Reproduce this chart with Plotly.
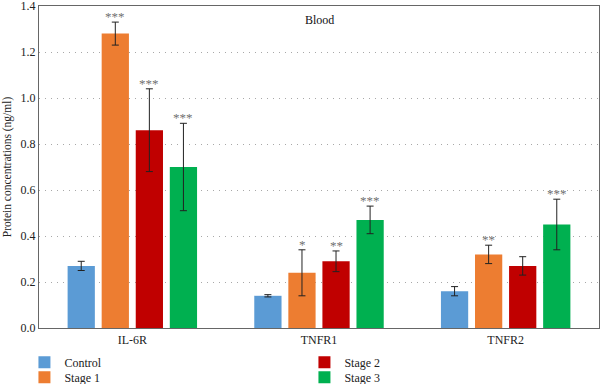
import plotly.graph_objects as go

categories = ["IL-6R", "TNFR1", "TNFR2"]
series_names = ["Control", "Stage 1", "Stage 2", "Stage 3"]
values = {
    "Control": [0.27, 0.14, 0.16],
    "Stage 1": [1.28, 0.24, 0.32],
    "Stage 2": [0.86, 0.29, 0.27],
    "Stage 3": [0.70, 0.47, 0.45],
}
errors = {
    "Control": [0.02, 0.005, 0.02],
    "Stage 1": [0.05, 0.10, 0.04],
    "Stage 2": [0.18, 0.045, 0.04],
    "Stage 3": [0.19, 0.06, 0.11],
}
stars = {
    "Control": ["", "", ""],
    "Stage 1": ["***", "*", "**"],
    "Stage 2": ["***", "**", ""],
    "Stage 3": ["***", "***", "***"],
}
colors = {"Control": "#5B9BD5", "Stage 1": "#ED7D31", "Stage 2": "#C00000", "Stage 3": "#00B050"}
legend_ids = {"Control": "legend", "Stage 1": "legend2", "Stage 2": "legend3", "Stage 3": "legend4"}
# legend placement (paper coords): 2 columns x 2 rows
legend_pos = {"Control": (-0.026, -0.106), "Stage 1": (-0.026, -0.153),
              "Stage 2": (0.474, -0.106), "Stage 3": (0.474, -0.153)}
y_ticks = [0.0, 0.2, 0.4, 0.6, 0.8, 1.0, 1.2, 1.4]
SERIF = "Liberation Serif"

fig = go.Figure()
for name in series_names:
    fig.add_trace(go.Bar(
        name=name, x=categories, y=values[name],
        marker=dict(color=colors[name], line=dict(width=0)),
        error_y=dict(type="data", array=errors[name], color="#222222", thickness=1, width=3.5),
        legend=legend_ids[name],
    ))

n = len(series_names)
for i, name in enumerate(series_names):
    for j, cat in enumerate(categories):
        s = stars[name][j]
        if not s:
            continue
        fig.add_annotation(
            x=j, y=values[name][j] + errors[name][j], xref="x", yref="y",
            text=s, showarrow=False, yanchor="bottom",
            xshift=(i - (n - 1) / 2) * 34, yshift=-4,
            font=dict(family=SERIF, size=13, color="#707070"),
        )

fig.add_annotation(x=0.5, y=0.985, xref="paper", yref="paper", text="Blood",
                   showarrow=False, yanchor="top",
                   font=dict(family=SERIF, size=12, color="#111111"))

legend_layout = {}
for name in series_names:
    lx, ly = legend_pos[name]
    legend_layout[legend_ids[name]] = dict(
        x=lx, y=ly, xanchor="left", yanchor="middle", orientation="v",
        font=dict(family=SERIF, size=12, color="#222222"),
        itemwidth=30, bgcolor="rgba(0,0,0,0)", borderwidth=0)

fig.update_layout(
    width=600, height=384,
    margin=dict(l=39, r=1, t=6, b=56, autoexpand=False),
    paper_bgcolor="white", plot_bgcolor="white",
    barmode="group", bargap=0.27, bargroupgap=0.2,
    font=dict(family=SERIF, size=11, color="#222222"),
    showlegend=True,
    **legend_layout,
)
fig.update_xaxes(showline=True, linecolor="#666666", linewidth=1.3, mirror=True,
                 ticks="", automargin=False,
                 tickfont=dict(family=SERIF, size=12, color="#222222"))
fig.update_yaxes(range=[0, 1.4], tickvals=y_ticks, ticktext=[f"{v:.1f}" for v in y_ticks],
                 ticklabeloverflow="allow",
                 showgrid=True, gridcolor="#a8a8a8", griddash="1px,5px", gridwidth=1,
                 zeroline=False, showline=True, linecolor="#666666", linewidth=1.3, mirror=True,
                 ticks="", automargin=False,
                 tickfont=dict(family=SERIF, size=12, color="#222222"),
                 title=dict(text="Protein concentrations (ng/ml)", standoff=6,
                            font=dict(family=SERIF, size=11.5, color="#222222")))

fig.write_html("out.html", post_script="document.body.style.margin='0';",
               config={"displayModeBar": False})
